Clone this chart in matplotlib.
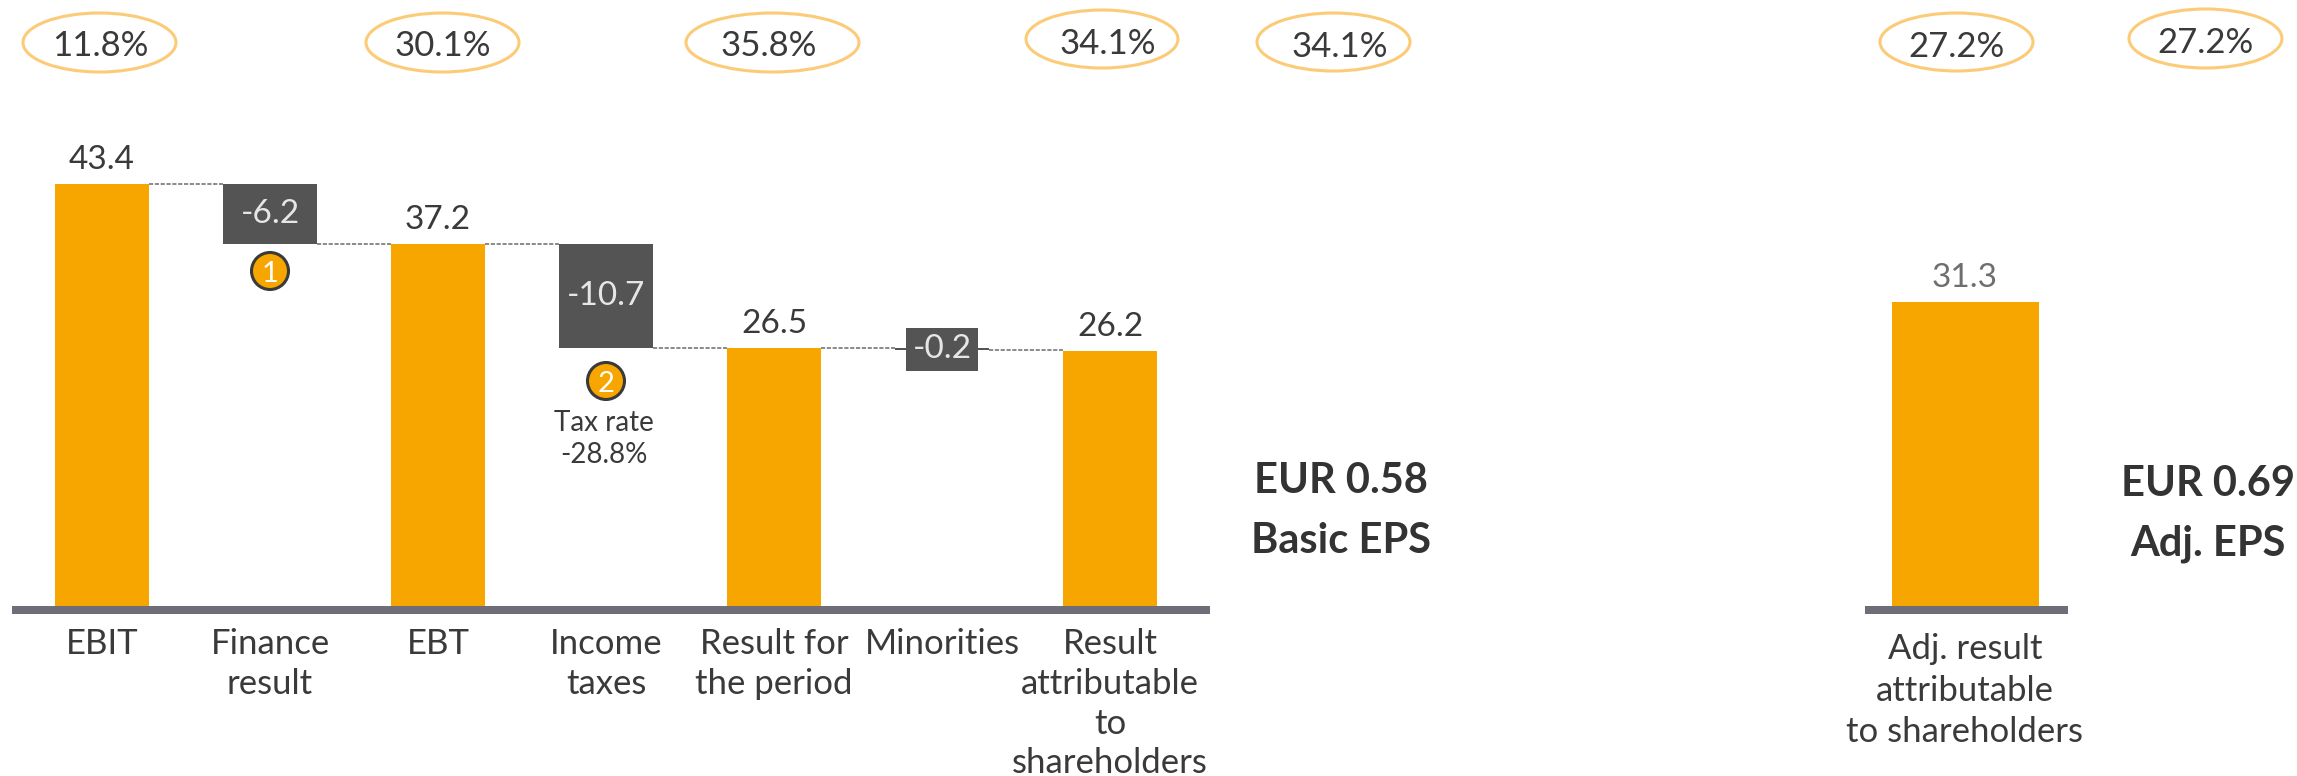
import matplotlib
matplotlib.use("Agg")
import matplotlib.pyplot as plt
from matplotlib.patches import Ellipse, Circle

plt.rcParams['font.family'] = ['Lato', 'DejaVu Sans']

# Data
categories = ["EBIT", "Finance\nresult", "EBT", "Income\ntaxes", "Result for\nthe period", "Minorities",
              "Result\nattributable\nto\nshareholders"]
totals = {0: 43.4, 2: 37.2, 4: 26.5, 6: 26.2}
deltas = {1: -6.2, 3: -10.7, 5: -0.2}
adj_category = ["Adj. result\nattributable\nto shareholders"]
adj_values = [31.3]
margins = ["11.8%", "30.1%", "35.8%", "34.1%", "34.1%", "27.2%", "27.2%"]
eps_labels = ["EUR 0.58\nBasic EPS", "EUR 0.69\nAdj. EPS"]
tax_note = "Tax rate\n-28.8%"

W, H = 2297, 776
ORANGE = "#F7A600"
DARK = "#545454"
TEXT = "#3A3A3A"
BASE = "#6E6E78"
PX = 72 / 100
PX_PER_UNIT = 9.72
BASE_Y = 606

fig = plt.figure(figsize=(W / 100, H / 100), dpi=100, facecolor="white")

def panel(x0, x1):
    ax = fig.add_axes([x0 / W, 0, (x1 - x0) / W, 1])
    ax.set_ylim(-(H - BASE_Y) / PX_PER_UNIT, BASE_Y / PX_PER_UNIT)
    ax.patch.set_alpha(0)
    for s in ["left", "right", "top"]:
        ax.spines[s].set_visible(False)
    ax.yaxis.set_visible(False)
    ax.spines["bottom"].set_position(("data", -0.4))
    ax.spines["bottom"].set_linewidth(8 * PX)
    ax.spines["bottom"].set_color(BASE)
    ax.spines["bottom"].set_capstyle("butt")
    ax.tick_params(axis="x", length=0, pad=14, labelsize=25, labelcolor=TEXT)
    return ax

# Main waterfall
ax = panel(12, 1210)
STEP = 168
ax.set_xlim((12 - 102) / STEP, (1210 - 102) / STEP)
BW = 94 / STEP
level = 0.0
levels = []
for i in range(len(categories)):
    if i in totals:
        ax.bar(i, totals[i], BW, color=ORANGE, zorder=3)
        ax.annotate(f"{totals[i]:.1f}", (i, totals[i]), xytext=(0, 15 * PX), textcoords="offset points",
                    ha="center", va="baseline", fontsize=24, color=TEXT)
        level = totals[i]
        levels.append((level, level))
    else:
        d = deltas[i]
        new = level + d
        ax.bar(i, -d, BW, bottom=new, color=DARK, zorder=3)
        label_kw = dict(ha="center", va="center", fontsize=24, color="#E6E6E6", zorder=5)
        if abs(d) < 1:
            ax.text(i, (level + new) / 2 + 0.02, f"{d:.1f}", **label_kw,
                    bbox=dict(facecolor=DARK, edgecolor="none", boxstyle="square,pad=0.2"))
        else:
            ax.text(i, (level + new) / 2, f"{d:.1f}", **label_kw)
        levels.append((level, new))
        level = new
for i in range(len(categories) - 1):
    y = levels[i][1]
    ax.plot([i + BW / 2, i + 1 - BW / 2], [y, y], color="#777777", lw=1.2, ls=(0, (2.5, 1)), zorder=2)
ax.set_xticks(range(len(categories)))
ax.set_xticklabels(categories, linespacing=1.30)
ax.tick_params(axis="x", pad=13)

# Adjusted panel
ax2 = panel(1865, 2068)
unit = 147 / 0.8
ax2.set_xlim((1865 - 1965) / unit, (2068 - 1965) / unit)
ax2.bar([0], adj_values, 0.8, color=ORANGE, zorder=3)
ax2.annotate(f"{adj_values[0]:.1f}", (0, adj_values[0]), xytext=(0, 15 * PX), textcoords="offset points",
             ha="center", va="baseline", fontsize=24, color="#6F6F6F")
ax2.set_xticks([0])
ax2.set_xticklabels(adj_category, linespacing=1.36)
ax2.tick_params(axis="x", pad=17)

# Overlay in pixel coordinates: ellipses, badges, notes
ov = fig.add_axes([0, 0, 1, 1], zorder=10)
ov.set_xlim(0, W)
ov.set_ylim(H, 0)
ov.axis("off")
ell_boxes = [(23, 176, 13, 72), (366, 519, 13, 72), (686, 859, 13, 72), (1026, 1178, 10, 68),
             (1257, 1410, 13, 71), (1880, 2033, 13, 71), (2129, 2282, 9, 68)]
text_x = [100, 442.5, 769, 1108, 1340, 1957, 2205.5]
text_y = [43.5, 43.5, 43.5, 40.5, 44, 44, 40]
for (x0, x1, y0, y1), s, tx, ty in zip(ell_boxes, margins, text_x, text_y):
    ov.add_patch(Ellipse(((x0 + x1) / 2, (y0 + y1) / 2), x1 - x0, y1 - y0, fill=False,
                         edgecolor="#FBCB78", lw=2.2))
    ov.text(tx, ty, s, ha="center", va="center_baseline", fontsize=25, color=TEXT)

for n, (x, y) in zip(["1", "2"], [(270, 271), (606, 381)]):
    ov.add_patch(Circle((x, y), 18.5, facecolor=ORANGE, edgecolor="#3A3A3A", lw=2.2))
    ov.text(x, y, n, ha="center", va="center_baseline", fontsize=21, color="white")

ov.text(604, 439, tax_note, ha="center", va="center", fontsize=20, color=TEXT, linespacing=1.24)

for (x, y), s in zip([(1341, 511), (2208, 514)], eps_labels):
    ov.text(x, y, s, ha="center", va="center", fontsize=30, fontweight="bold", color="#333333", linespacing=1.7)

fig.savefig("out.png", dpi=100)
